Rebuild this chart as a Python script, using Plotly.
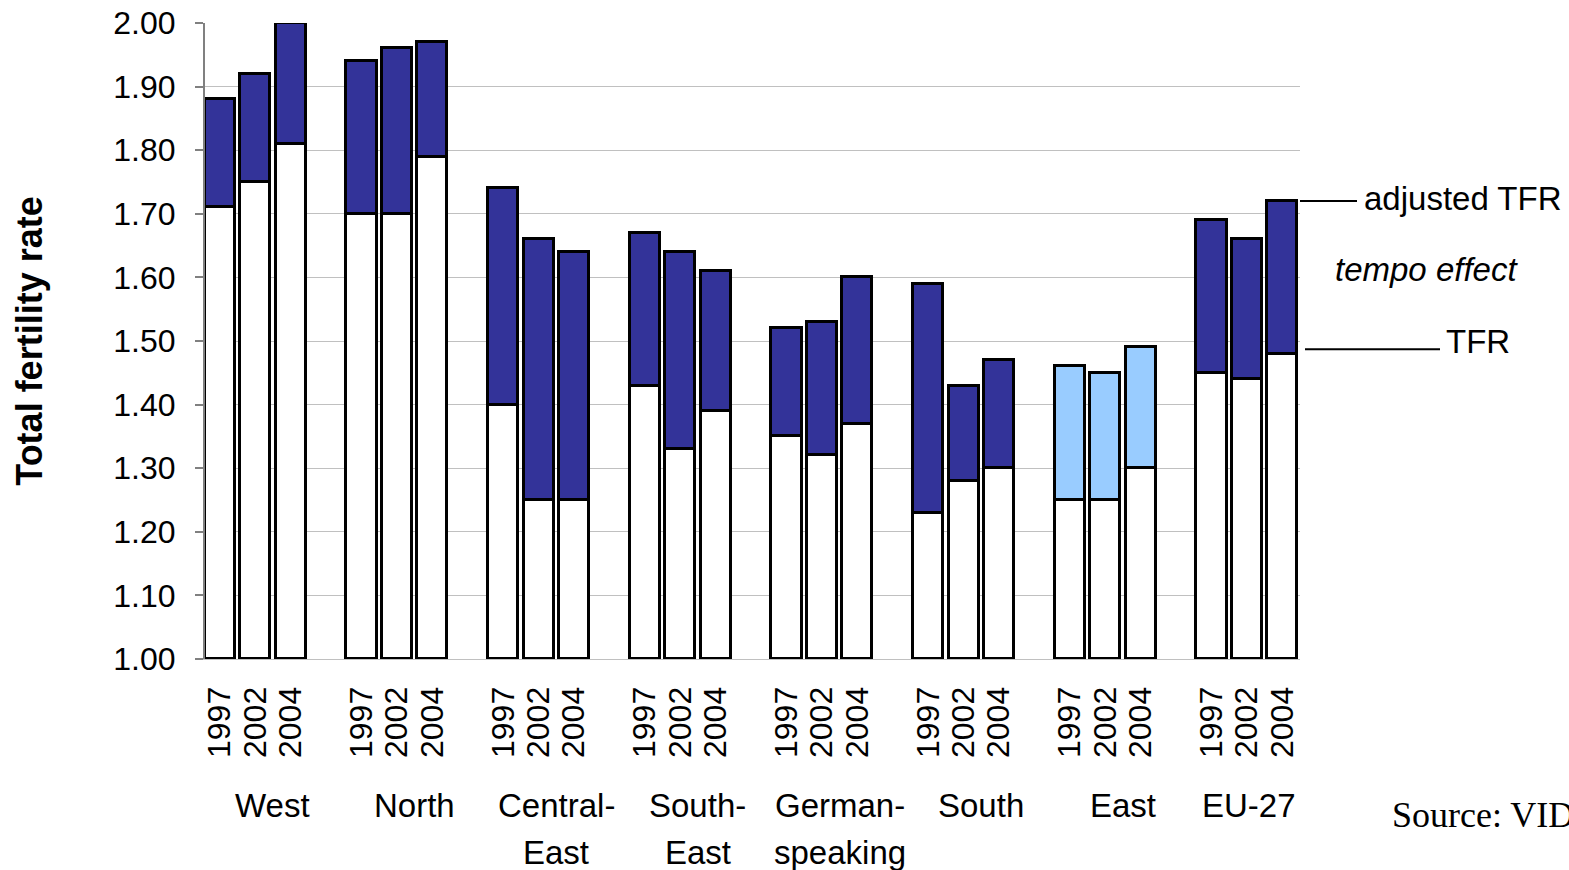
import plotly.graph_objects as go

# Regions and years
regions = ["West", "North", "Central-", "South-", "German-", "South", "East", "EU-27"]
regions_line2 = ["", "", "East", "East", "speaking", "", "", ""]
years = ["1997", "2002", "2004"]

# Observed TFR per region (1997, 2002, 2004)
tfr = [
    [1.71, 1.75, 1.81],
    [1.70, 1.70, 1.79],
    [1.40, 1.25, 1.25],
    [1.43, 1.33, 1.39],
    [1.35, 1.32, 1.37],
    [1.23, 1.28, 1.30],
    [1.25, 1.25, 1.30],
    [1.45, 1.44, 1.48],
]
# Tempo-adjusted TFR per region (1997, 2002, 2004)
adj_tfr = [
    [1.88, 1.92, 2.00],
    [1.94, 1.96, 1.97],
    [1.74, 1.66, 1.64],
    [1.67, 1.64, 1.61],
    [1.52, 1.53, 1.60],
    [1.59, 1.43, 1.47],
    [1.46, 1.45, 1.49],
    [1.69, 1.66, 1.72],
]

FONT = "Liberation Sans, Arial, sans-serif"
DARK = "#333399"
LIGHT = "#99CCFF"

W, H = 1569, 870
L, R, T, B = 205, 269, 23, 211
PW, PH = W - L - R, H - T - B


def px_x(pix):
    # pixel column -> paper x
    return (pix - L) / PW


def px_y(pix):
    # pixel row -> paper y
    return 1 - (pix - T) / PH


xs, base_h, tempo_h, tempo_base, colors, tick_text = [], [], [], [], [], []
for g, name in enumerate(regions):
    for j, yr in enumerate(years):
        xs.append(g * 4 + j)
        base_h.append(tfr[g][j] - 1.0)
        tempo_base.append(tfr[g][j])
        tempo_h.append(adj_tfr[g][j] - tfr[g][j])
        colors.append(LIGHT if name == "East" else DARK)
        tick_text.append(yr)

fig = go.Figure()
fig.add_trace(go.Bar(
    x=xs, y=base_h, base=1.0, width=0.85,
    marker=dict(color="white", line=dict(color="black", width=3)),
    name="TFR", showlegend=False,
))
fig.add_trace(go.Bar(
    x=xs, y=tempo_h, base=tempo_base, width=0.85,
    marker=dict(color=colors, line=dict(color="black", width=3)),
    name="tempo effect", showlegend=False,
))

# Region labels under the year ticks
for g in range(len(regions)):
    cx = g * 4 + (1.05 if regions[g] == "EU-27" else 1.5)
    fig.add_annotation(x=cx, y=px_y(805), xref="x", yref="paper", text=regions[g],
                       showarrow=False, xanchor="center", yanchor="middle",
                       font=dict(size=33, family=FONT, color="black"))
    if regions_line2[g]:
        fig.add_annotation(x=cx, y=px_y(852), xref="x", yref="paper", text=regions_line2[g],
                           showarrow=False, xanchor="center", yanchor="middle",
                           font=dict(size=33, family=FONT, color="black"))

# Legend-style labels to the right of the EU-27 bars
fig.add_shape(type="line", xref="paper", yref="y", x0=1.0, x1=px_x(1357),
              y0=1.72, y1=1.72, line=dict(color="black", width=2))
fig.add_annotation(x=px_x(1362), y=px_y(199), xref="paper", yref="paper",
                   text="adjusted TFR", showarrow=False, xanchor="left", yanchor="middle",
                   font=dict(size=33, family=FONT, color="black"))
fig.add_annotation(x=px_x(1333), y=px_y(269), xref="paper", yref="paper",
                   text="<i>tempo effect</i>", showarrow=False, xanchor="left",
                   yanchor="middle", font=dict(size=33, family=FONT, color="black"))
fig.add_shape(type="line", xref="paper", yref="y", x0=px_x(1305),
              x1=px_x(1440), y0=1.487, y1=1.487,
              line=dict(color="black", width=2))
fig.add_annotation(x=px_x(1444), y=px_y(341), xref="paper", yref="paper",
                   text="TFR", showarrow=False, xanchor="left", yanchor="middle",
                   font=dict(size=33, family=FONT, color="black"))
fig.add_annotation(x=px_x(1390), y=px_y(815), xref="paper", yref="paper",
                   text="Source: VID", showarrow=False, xanchor="left", yanchor="middle",
                   font=dict(size=36, family="Liberation Serif, Times New Roman, serif",
                             color="black"))

fig.update_layout(
    width=W, height=H,
    margin=dict(l=L, r=R, t=T, b=B, pad=0, autoexpand=False),
    paper_bgcolor="white", plot_bgcolor="white",
    barmode="overlay", bargap=0,
    font=dict(family=FONT, color="black"),
)
fig.update_xaxes(
    range=[-0.42, 30.5], tickmode="array", tickvals=xs, ticktext=tick_text,
    tickangle=-90, tickfont=dict(size=32, family=FONT, color="black"),
    ticks="", showgrid=False, zeroline=False, automargin=False,
    showline=True, linecolor="#c0c0c0", linewidth=1, ticklabelstandoff=14,
)
fig.update_yaxes(
    range=[1.0, 2.0], dtick=0.1, tickformat=".2f", automargin=False,
    tickfont=dict(size=32, family=FONT, color="black"),
    ticks="outside", ticklen=8, tickcolor="#808080", tickwidth=1.5,
    showgrid=True, gridcolor="#c0c0c0", gridwidth=1.2, zeroline=False,
    showline=True, linecolor="#808080", linewidth=2, ticklabelstandoff=13,
    title=dict(text="<b>Total fertility rate</b>", standoff=60,
               font=dict(size=36, family=FONT, color="black")),
)

fig.write_html("out.html")
